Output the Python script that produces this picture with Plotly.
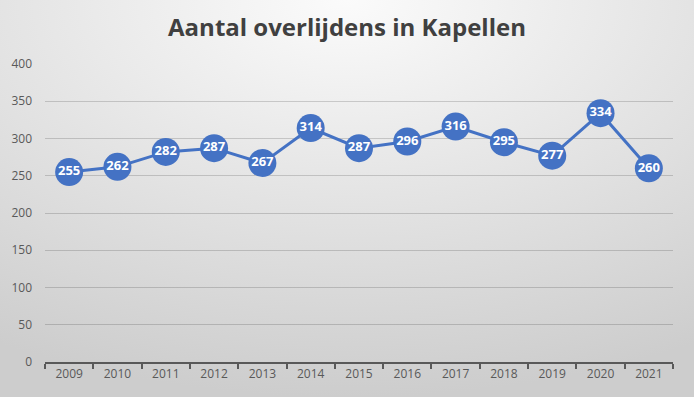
import plotly.graph_objects as go
import base64

years = ["2009", "2010", "2011", "2012", "2013", "2014", "2015",
         "2016", "2017", "2018", "2019", "2020", "2021"]
deaths = [255, 262, 282, 287, 267, 314, 287, 296, 316, 295, 277, 334, 260]
y_ticks = [0, 50, 100, 150, 200, 250, 300, 350, 400]

W, H = 694, 397
ML, MR, MT, MB = 45, 21, 64, 35

svg = f'''<svg xmlns="http://www.w3.org/2000/svg" width="{W}" height="{H}" viewBox="0 0 {W} {H}" preserveAspectRatio="none">
<defs><radialGradient id="g" cx="0.5" cy="0.0" r="1.0" gradientUnits="objectBoundingBox">
<stop offset="0" stop-color="#fbfbfb"/><stop offset="0.45" stop-color="#e6e6e6"/><stop offset="1" stop-color="#cdcdcd"/>
</radialGradient></defs>
<rect width="{W}" height="{H}" fill="url(#g)"/></svg>'''
src = "data:image/svg+xml;base64," + base64.b64encode(svg.encode()).decode()

pw = W - ML - MR
ph = H - MT - MB

fig = go.Figure()
fig.add_trace(go.Scatter(
    x=years, y=deaths, mode="lines+markers+text",
    text=[str(v) for v in deaths], textposition="middle center",
    textfont=dict(family="Open Sans", size=13, color="white", weight="bold"),
    line=dict(color="#4472C4", width=3),
    marker=dict(size=28, color="#4472C4", line=dict(color="#4472C4", width=0)),
    cliponaxis=False, hoverinfo="skip", showlegend=False,
))

fig.update_layout(
    width=W, height=H,
    margin=dict(l=ML, r=MR, t=MT, b=MB),
    paper_bgcolor="#e4e4e4", plot_bgcolor="rgba(0,0,0,0)",
    title=dict(text="<b>Aantal overlijdens in Kapellen</b>", x=0.5, xanchor="center",
               y=1 - 28 / H, yanchor="middle",
               font=dict(family="Open Sans", size=24, color="#404040")),
    images=[dict(source=src, xref="paper", yref="paper",
                 x=-ML / pw, y=1 + MT / ph, sizex=W / pw, sizey=H / ph,
                 xanchor="left", yanchor="top", sizing="stretch", layer="below")],
    xaxis=dict(type="category", range=[-0.5, len(years) - 0.5],
               tickson="boundaries", ticks="outside", ticklen=5, tickcolor="#595959",
               tickwidth=2, showline=True, linecolor="#595959", linewidth=2,
               showgrid=False, tickfont=dict(family="Open Sans", size=12, color="#595959")),
    yaxis=dict(range=[0, 400], tickvals=y_ticks, showgrid=True,
               gridcolor="rgba(0,0,0,0.16)", gridwidth=1, zeroline=False,
               showline=False, ticks="", ticklabelstandoff=12,
               tickfont=dict(family="Open Sans", size=12, color="#595959")),
)

fig.write_html("out.html", config={"displayModeBar": False},
               post_script="document.body.style.margin='0';document.body.style.padding='0';")
